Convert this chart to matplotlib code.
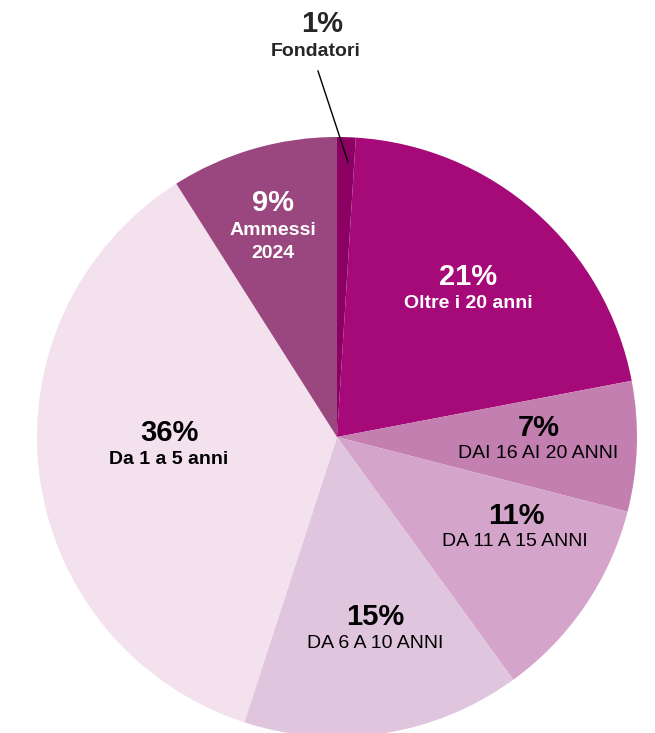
import matplotlib.pyplot as plt

plt.rcParams['font.family'] = ['Liberation Sans', 'DejaVu Sans']

# slices, clockwise from the top
percents = [1, 21, 7, 11, 15, 36, 9]
labels = ['Fondatori', 'Oltre i 20 anni', 'DAI 16 AI 20 ANNI', 'DA 11 A 15 ANNI',
          'DA 6 A 10 ANNI', 'Da 1 a 5 anni', 'Ammessi\n2024']
colors = ['#8C0064', '#A50A78', '#C47FB1', '#D4A4CA', '#E0C5DF', '#F3E1EE', '#9B477F']

fig = plt.figure(figsize=(6.55, 7.33), dpi=100)
W, H = 655, 733
cx, cy, r = 337, 437, 300
ax = fig.add_axes([(cx - r) / W, (H - cy - r) / H, 2 * r / W, 2 * r / H])

ax.pie(percents, colors=colors, startangle=90, counterclock=False, radius=1,
       wedgeprops=dict(linewidth=0))
ax.set_xlim(-1, 1)
ax.set_ylim(-1, 1)
ax.set_aspect('equal')
ax.axis('off')


def to_data(px, py):
    return (px - cx) / r, (cy - py) / r


# label positions in pixels (percent line, caption line)
pct_pos = [(322, 24), (468, 277), (539, 428), (516, 516), (375, 617), (169, 433), (273, 203)]
cap_pos = [(316, 52), (468, 303), (538, 453), (515, 541), (375, 643), (169, 459), (273, 242)]
text_colors = ['#262626', 'white', 'black', 'black', 'black', 'black', 'white']
cap_bold = [True, True, False, False, False, True, True]

for i in range(len(percents)):
    x, y = to_data(*pct_pos[i])
    ax.text(x, y, f'{percents[i]}%', ha='center', va='center', fontsize=21,
            fontweight='bold', color=text_colors[i], clip_on=False)
    x, y = to_data(*cap_pos[i])
    ax.text(x, y, labels[i], ha='center', va='center', fontsize=14,
            fontweight='bold' if cap_bold[i] else 'normal', color=text_colors[i],
            linespacing=1.4, clip_on=False)

# leader line for the small slice
x0, y0 = to_data(318, 71)
x1, y1 = to_data(348, 162)
ax.plot([x0, x1], [y0, y1], color='black', linewidth=1, clip_on=False)

fig.savefig('out.png', dpi=100)
